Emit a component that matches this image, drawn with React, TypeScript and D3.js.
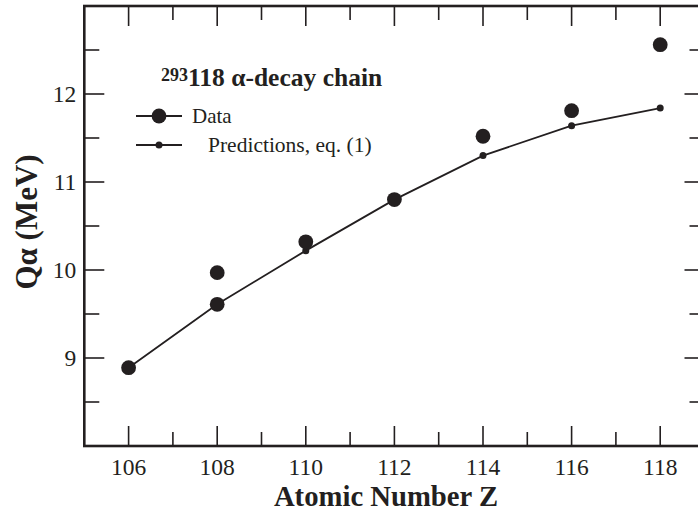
import * as d3 from 'd3';
import { useEffect, useRef } from 'react';

const WIDTH = 698;
const HEIGHT = 513;
const MARGIN = { top: 6, right: -6.5, bottom: 67, left: 84.3 };

// atomic numbers of the chain
const predZ = [106, 108, 110, 112, 114, 116, 118];
const predQ = [8.89, 9.61, 10.22, 10.8, 11.3, 11.64, 11.84];

const dataZ = [106, 108, 108, 110, 112, 114, 116, 118];
const dataQ = [8.89, 9.97, 9.61, 10.32, 10.8, 11.52, 11.81, 12.56];

const xMajor = [106, 108, 110, 112, 114, 116, 118];
const xMinor = [107, 109, 111, 113, 115, 117];
const yMajor = [9, 10, 11, 12];
const yMinor = [8.5, 9.5, 10.5, 11.5, 12.5];

const FONT = '"Liberation Serif", "Times New Roman", serif';

const App = () => {
    const svgRef = useRef<SVGSVGElement>(null);

    useEffect(() => {
        const svg = d3.select(svgRef.current);
        svg.selectAll('*').remove();

        const boundsWidth = WIDTH - MARGIN.left - MARGIN.right;
        const boundsHeight = HEIGHT - MARGIN.top - MARGIN.bottom;

        const xScale = d3.scaleLinear().domain([105, 119]).range([MARGIN.left, MARGIN.left + boundsWidth]);
        const yScale = d3.scaleLinear().domain([8, 13]).range([MARGIN.top + boundsHeight, MARGIN.top]);

        const x0 = xScale(105), x1 = xScale(119);
        const y0 = yScale(8), y1 = yScale(13);

        const ticks = svg.append('g').attr('stroke', '#231f20').attr('stroke-width', 1.6);
        // bottom + top ticks
        xMajor.forEach((v) => {
            ticks.append('line').attr('x1', xScale(v)).attr('x2', xScale(v)).attr('y1', y0).attr('y2', y0 - 20);
            ticks.append('line').attr('x1', xScale(v)).attr('x2', xScale(v)).attr('y1', y1).attr('y2', y1 + 20);
        });
        xMinor.forEach((v) => {
            ticks.append('line').attr('x1', xScale(v)).attr('x2', xScale(v)).attr('y1', y0).attr('y2', y0 - 14);
            ticks.append('line').attr('x1', xScale(v)).attr('x2', xScale(v)).attr('y1', y1).attr('y2', y1 + 14);
        });
        // left + right ticks
        yMajor.forEach((v) => {
            ticks.append('line').attr('x1', x0).attr('x2', x0 + 20).attr('y1', yScale(v)).attr('y2', yScale(v));
            ticks.append('line').attr('x1', x1).attr('x2', x1 - 20).attr('y1', yScale(v)).attr('y2', yScale(v));
        });
        yMinor.forEach((v) => {
            ticks.append('line').attr('x1', x0).attr('x2', x0 + 15).attr('y1', yScale(v)).attr('y2', yScale(v));
            ticks.append('line').attr('x1', x1).attr('x2', x1 - 15).attr('y1', yScale(v)).attr('y2', yScale(v));
        });

        // frame
        svg.append('rect')
            .attr('x', x0).attr('y', y1)
            .attr('width', x1 - x0).attr('height', y0 - y1)
            .attr('fill', 'none').attr('stroke', '#231f20').attr('stroke-width', 2.6);

        // tick labels
        svg.append('g').selectAll('text').data(xMajor).join('text')
            .attr('x', (d) => xScale(d)).attr('y', y0 + 29)
            .attr('text-anchor', 'middle')
            .attr('font-family', FONT).attr('font-size', 23.5).attr('fill', '#231f20')
            .text((d) => d);
        svg.append('g').selectAll('text').data(yMajor).join('text')
            .attr('x', x0 - 8).attr('y', (d) => yScale(d))
            .attr('dy', '0.34em')
            .attr('text-anchor', 'end')
            .attr('font-family', FONT).attr('font-size', 23.5).attr('fill', '#231f20')
            .text((d) => d);

        // axis titles
        svg.append('text')
            .attr('x', 386).attr('y', 506)
            .attr('text-anchor', 'middle')
            .attr('font-family', FONT).attr('font-size', 28.7).attr('font-weight', 'bold').attr('fill', '#231f20')
            .text('Atomic Number Z');
        svg.append('text')
            .attr('transform', `translate(37, 222) rotate(-90)`)
            .attr('text-anchor', 'middle')
            .attr('font-family', FONT).attr('font-size', 31).attr('font-weight', 'bold').attr('fill', '#231f20')
            .text('Qα (MeV)');

        // predictions line
        const line = d3.line<number>()
            .x((_, i) => xScale(predZ[i]))
            .y((d) => yScale(d));
        svg.append('path')
            .datum(predQ)
            .attr('d', line)
            .attr('fill', 'none').attr('stroke', '#231f20').attr('stroke-width', 1.8);
        svg.append('g').selectAll('circle').data(predQ).join('circle')
            .attr('cx', (_, i) => xScale(predZ[i])).attr('cy', (d) => yScale(d))
            .attr('r', 3.5).attr('fill', '#231f20');

        // data points
        svg.append('g').selectAll('circle').data(dataQ).join('circle')
            .attr('cx', (_, i) => xScale(dataZ[i])).attr('cy', (d) => yScale(d))
            .attr('r', 7.4).attr('fill', '#231f20');

        // legend
        const legend = svg.append('g')
            .attr('font-family', FONT).attr('fill', '#231f20');
        const title = legend.append('text').attr('x', 161).attr('y', 85.5);
        title.append('tspan').attr('font-size', 18).attr('font-weight', 'bold').attr('dy', -5).text('293');
        title.append('tspan').attr('font-size', 25.5).attr('font-weight', 'bold').attr('dy', 5).text('118 α-decay chain');

        legend.append('line').attr('x1', 136).attr('x2', 182).attr('y1', 116).attr('y2', 116)
            .attr('stroke', '#231f20').attr('stroke-width', 1.8);
        legend.append('circle').attr('cx', 159).attr('cy', 116).attr('r', 7.4);
        legend.append('text').attr('x', 192).attr('y', 123.3).attr('font-size', 21).text('Data');

        legend.append('line').attr('x1', 136).attr('x2', 182).attr('y1', 145).attr('y2', 145)
            .attr('stroke', '#231f20').attr('stroke-width', 1.8);
        legend.append('circle').attr('cx', 159).attr('cy', 145).attr('r', 3.5);
        legend.append('text').attr('x', 208).attr('y', 151.7).attr('font-size', 21.5).text('Predictions, eq. (1)');
    }, []);

    return (
        <svg
            ref={svgRef}
            width={WIDTH}
            height={HEIGHT}
            style={{ position: 'absolute', left: 0, top: 0, background: '#fff' }}
        />
    );
};

export default App;
